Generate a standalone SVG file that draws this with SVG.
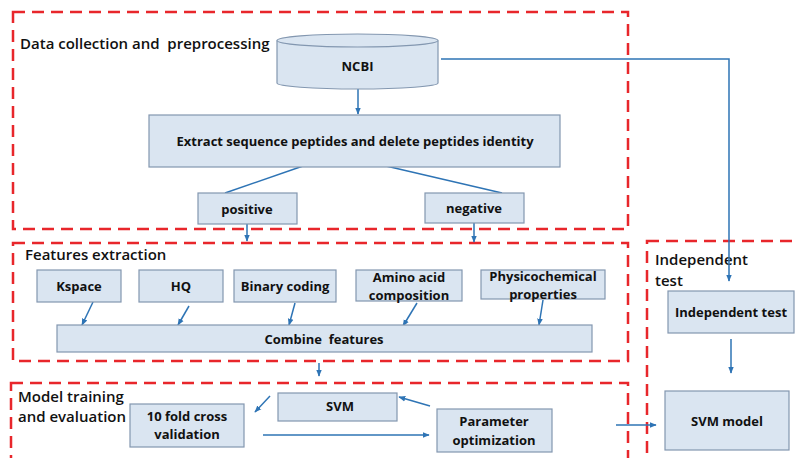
<svg xmlns="http://www.w3.org/2000/svg" width="798" height="458" viewBox="0 0 798 458">
<defs>
<marker id="ah" viewBox="0 0 10 10" refX="9" refY="5" markerWidth="7" markerHeight="7" markerUnits="userSpaceOnUse" orient="auto">
<path d="M0,1 L10,5 L0,9 z" fill="#2e74b5"/>
</marker>
<style>
.grp{fill:none;stroke:#e8262b;stroke-width:2.5;stroke-dasharray:12 7}
.nd{fill:#dae5f1;stroke:#8397b0;stroke-width:1.2}
.t{font-family:"Open Sans","Liberation Sans",sans-serif;font-weight:700;font-size:13px;fill:#111;text-anchor:middle;dominant-baseline:central;white-space:pre}
.h{font-family:"Open Sans","Liberation Sans",sans-serif;font-weight:600;font-size:15px;fill:#111;white-space:pre}
.c{fill:none;stroke:#2e74b5;stroke-width:1.5}
.ca{fill:none;stroke:#2e74b5;stroke-width:1.5;marker-end:url(#ah)}
</style>
</defs>
<rect width="798" height="458" fill="#fff"/>
<g id="groups">
<rect class="grp" x="13" y="12" width="615" height="217"/>
<text class="h" x="20" y="49" xml:space="preserve">Data collection and  preprocessing</text>
<rect class="grp" x="13" y="243" width="615" height="118"/>
<text class="h" x="25" y="260">Features extraction</text>
<rect class="grp" x="11" y="383" width="617" height="90"/>
<text class="h" x="18" y="402">Model training</text>
<text class="h" x="18" y="422">and evaluation</text>
<rect class="grp" x="647" y="241" width="170" height="240"/>
<text class="h" x="655" y="265">Independent</text>
<text class="h" x="655" y="286">test</text>
</g>
<g id="connectors">
<line class="ca" x1="358" y1="89" x2="358" y2="114"/>
<line class="c" x1="303" y1="166" x2="225" y2="193"/>
<line class="c" x1="386" y1="166" x2="502" y2="193"/>
<line class="ca" x1="247" y1="224" x2="247" y2="241"/>
<line class="ca" x1="474" y1="223" x2="474" y2="242"/>
<polyline class="ca" points="441,59 729,59 729,281"/>
<line class="ca" x1="93" y1="302" x2="82" y2="325"/>
<line class="ca" x1="189" y1="306" x2="178" y2="325"/>
<line class="ca" x1="295" y1="303" x2="289" y2="325"/>
<line class="ca" x1="417" y1="303" x2="403" y2="326"/>
<line class="ca" x1="543" y1="300" x2="539" y2="325"/>
<line class="ca" x1="319" y1="363" x2="319" y2="376"/>
<line class="ca" x1="270" y1="396" x2="255" y2="412"/>
<line class="ca" x1="430" y1="406" x2="399" y2="397"/>
<line class="ca" x1="263" y1="435" x2="429" y2="435"/>
<line class="ca" x1="616" y1="425" x2="656" y2="425"/>
<line class="ca" x1="731" y1="339" x2="731" y2="373"/>
</g>
<g id="ncbi">
<path class="nd" d="M277,40.5 L277,83 A80.5,6 0 0 0 438,83 L438,40.5"/>
<ellipse class="nd" cx="357.5" cy="40.5" rx="80.5" ry="6.5"/>
<text class="t" x="357.5" y="66">NCBI</text>
</g>
<g id="extract">
<rect class="nd" x="149" y="115" width="411" height="52"/>
<text class="t" x="355" y="141">Extract sequence peptides and delete peptides identity</text>
</g>
<g id="positive">
<rect class="nd" x="198" y="193" width="99" height="31"/>
<text class="t" x="247" y="209">positive</text>
</g>
<g id="negative">
<rect class="nd" x="425" y="193" width="99" height="30"/>
<text class="t" x="474" y="208">negative</text>
</g>
<g id="kspace">
<rect class="nd" x="37" y="270" width="84" height="32"/>
<text class="t" x="79" y="286">Kspace</text>
</g>
<g id="hq">
<rect class="nd" x="139" y="270" width="84" height="32"/>
<text class="t" x="181" y="286">HQ</text>
</g>
<g id="binary">
<rect class="nd" x="234" y="270" width="102" height="32"/>
<text class="t" x="285" y="286">Binary coding</text>
</g>
<g id="amino">
<rect class="nd" x="356" y="270" width="106" height="31"/>
<text class="t" x="409" y="277">Amino acid</text>
<text class="t" x="409" y="295">composition</text>
</g>
<g id="physico">
<rect class="nd" x="481" y="270" width="124" height="29"/>
<text class="t" x="543" y="276">Physicochemical</text>
<text class="t" x="543" y="294">properties</text>
</g>
<g id="combine">
<rect class="nd" x="57" y="325" width="535" height="27"/>
<text class="t" x="324" y="339" xml:space="preserve">Combine  features</text>
</g>
<g id="tenfold">
<rect class="nd" x="130" y="404" width="114" height="43"/>
<text class="t" x="187" y="416">10 fold cross</text>
<text class="t" x="187" y="434">validation</text>
</g>
<g id="svm">
<rect class="nd" x="278" y="393" width="119" height="28"/>
<text class="t" x="340" y="406">SVM</text>
</g>
<g id="param">
<rect class="nd" x="437" y="409" width="115" height="43"/>
<text class="t" x="494" y="421">Parameter</text>
<text class="t" x="494" y="440">optimization</text>
</g>
<g id="indtest">
<rect class="nd" x="668" y="291" width="126" height="42"/>
<text class="t" x="731" y="312">Independent test</text>
</g>
<g id="svmmodel">
<rect class="nd" x="665" y="391" width="124" height="59"/>
<text class="t" x="727" y="421">SVM model</text>
</g>
</svg>
